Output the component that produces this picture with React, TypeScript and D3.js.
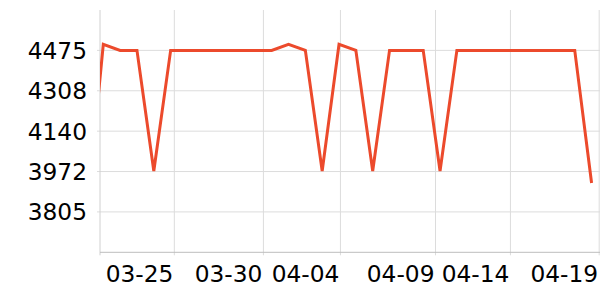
import React from "react";
import * as d3 from "d3";

// Daily values (2024-03-20 .. 2024-04-19)
const startDate = "2024-03-20";
const values = [
  3780, 4500, 4475, 4475, 3975, 4475, 4475, 4475, 4475, 4475, 4475, 4475,
  4500, 4475, 3975, 4500, 4475, 3975, 4475, 4475, 4475, 3975, 4475, 4475,
  4475, 4475, 4475, 4475, 4475, 4475, 3925,
];
const yTickValues = [3805, 3972.5, 4140, 4307.5, 4475];
const yTickLabels = ["3805", "3972", "4140", "4308", "4475"];
const xTickTimes = [
  "2024-03-25T05:16:00Z",
  "2024-03-30T12:14:00Z",
  "2024-04-04T02:00:00Z",
  "2024-04-09T17:30:00Z",
  "2024-04-14T04:20:00Z",
  "2024-04-19T10:50:00Z",
];
const xTickLabels = ["03-25", "03-30", "04-04", "04-09", "04-14", "04-19"];
const xDomain = ["2024-03-20T19:18:00Z", "2024-04-19T12:00:00Z"];
const yDomain = [3637.5, 4642.5];

const W = 600;
const H = 300;
const left = 100;
const right = 600;
const top = 10;
const bottom = 252.3;

export default function App() {
  const day0 = new Date(startDate + "T00:00:00Z").getTime();
  const data = values.map((v, i) => ({ d: new Date(day0 + i * 86400000), v }));
  const x = d3
    .scaleUtc()
    .domain(xDomain.map((s) => new Date(s)))
    .range([left, right]);
  const y = d3.scaleLinear().domain(yDomain).range([bottom, top]);
  const line = d3
    .line<{ d: Date; v: number }>()
    .x((p) => x(p.d))
    .y((p) => y(p.v));
  const xt = xTickTimes.map((s) => new Date(s));
  const font = "'DejaVu Sans', sans-serif";
  return (
    <svg
      width={W}
      height={H}
      style={{ position: "absolute", left: 0, top: 0 }}
    >
      <defs>
        <clipPath id="plotclip">
          <rect x={left} y={top - 5} width={right - left} height={bottom - top + 5} />
        </clipPath>
      </defs>
      {yTickValues.map((t, i) => (
        <g key={"y" + i}>
          <line x1={left - 3} x2={right} y1={y(t)} y2={y(t)} stroke="#dcdcdc" strokeWidth={1} />
          <text
            x={left - 13}
            y={y(t)}
            textAnchor="end"
            dominantBaseline="central"
            fontFamily={font}
            fontSize={23.3}
            fill="#000"
          >
            {yTickLabels[i]}
          </text>
        </g>
      ))}
      {xt.map((t, i) => (
        <g key={"x" + i}>
          <line x1={x(t)} x2={x(t)} y1={top} y2={bottom + 3} stroke="#dcdcdc" strokeWidth={1} />
          <text
            x={x(t) - 1}
            y={282}
            textAnchor="end"
            fontFamily={font}
            fontSize={23.3}
            fill="#000"
          >
            {xTickLabels[i]}
          </text>
        </g>
      ))}
      <line x1={left} x2={left} y1={top} y2={bottom + 3} stroke="#d0d0d0" strokeWidth={1} />
      <line x1={left} x2={right} y1={bottom} y2={bottom} stroke="#bdbdbd" strokeWidth={1} />
      <path
        d={line(data) || ""}
        fill="none"
        stroke="#ec4a2c"
        strokeWidth={3}
        strokeLinejoin="miter"
        clipPath="url(#plotclip)"
      />
    </svg>
  );
}
